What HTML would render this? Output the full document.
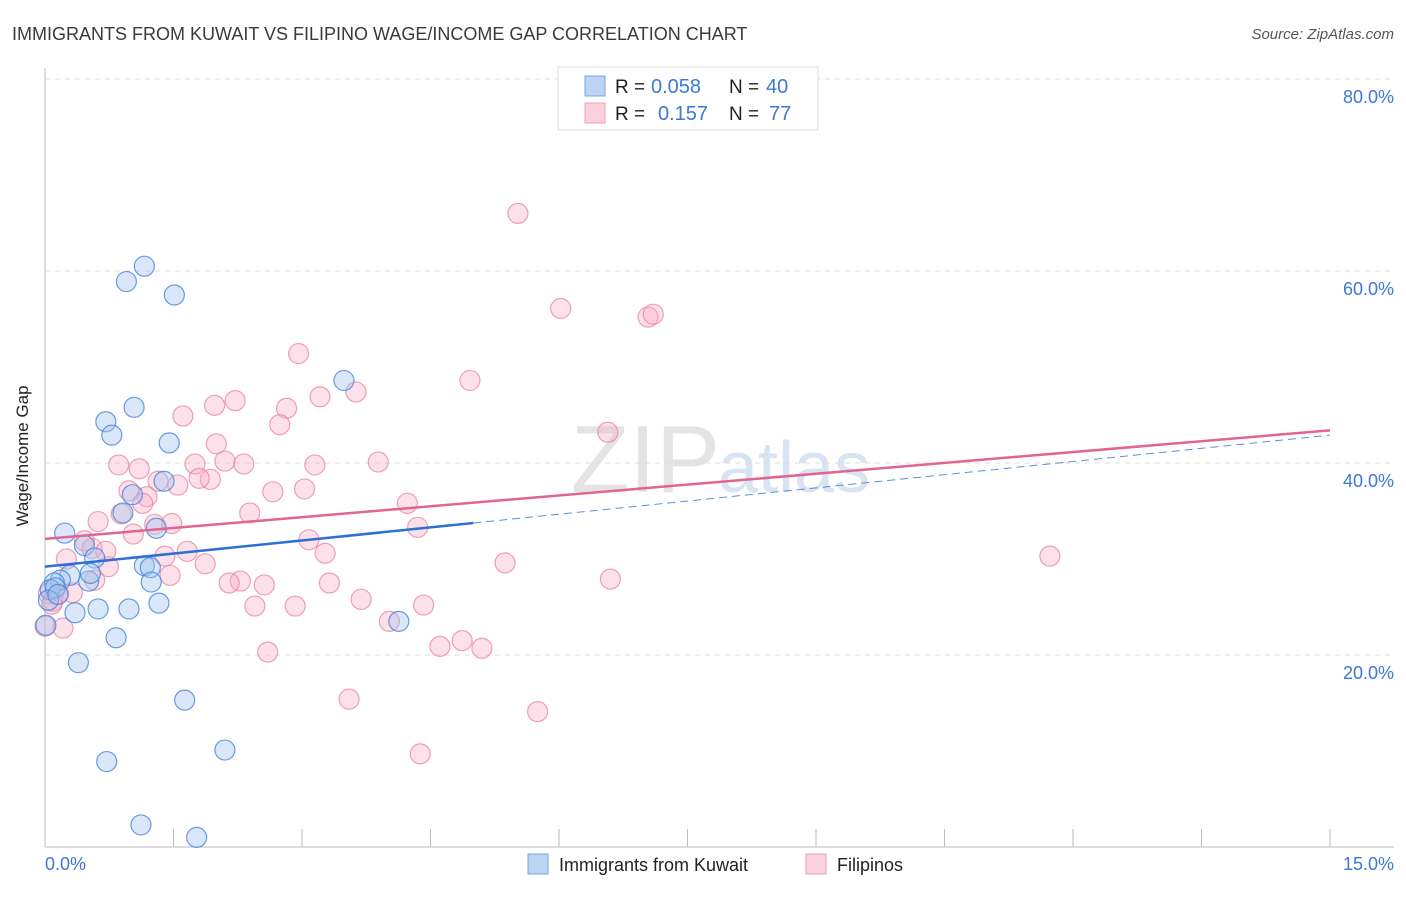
<!DOCTYPE html>
<html><head><meta charset="utf-8"><style>
body{margin:0;background:#fff;font-family:"Liberation Sans",sans-serif;}
svg text{font-family:"Liberation Sans",sans-serif;}
</style></head><body>
<svg id="chart" width="1406" height="892" xmlns="http://www.w3.org/2000/svg">
<text x="12" y="40" font-size="18" fill="#3a3a3a">IMMIGRANTS FROM KUWAIT VS FILIPINO WAGE/INCOME GAP CORRELATION CHART</text>
<text x="1394" y="39" font-size="15" fill="#555" font-style="italic" text-anchor="end">Source: ZipAtlas.com</text>
<text x="720" y="492" font-size="96" fill="#e4e4e4" text-anchor="end" font-family="Liberation Serif">ZIP</text>
<text x="718" y="492" font-size="72" fill="#d8e4f2">atlas</text>
<g id="grid"></g><g id="axes"></g><g id="pts"></g><g id="lines"></g>
<text x="28" y="456" font-size="17" fill="#222" text-anchor="middle" transform="rotate(-90 28 456)">Wage/Income Gap</text>
<text x="45" y="870" font-size="18" fill="#3b78d8">0.0%</text>
<text x="1394" y="870" font-size="18" fill="#3b78d8" text-anchor="end">15.0%</text>
<g>
<rect x="558" y="67" width="260" height="63" fill="#fff" stroke="#ddd"/>
<rect x="585" y="76" width="20" height="20" fill="#bcd4f4" stroke="#7aa6e6"/>
<rect x="585" y="103" width="20" height="20" fill="#fbd0dc" stroke="#f0a0b8"/>
<text x="615" y="93" font-size="19" fill="#222">R =</text>
<text x="651" y="93" font-size="20" fill="#3b78d8">0.058</text>
<text x="729" y="93" font-size="19" fill="#222">N =</text>
<text x="766" y="93" font-size="20" fill="#3b78d8">40</text>
<text x="615" y="120" font-size="19" fill="#222">R =</text>
<text x="658" y="120" font-size="20" fill="#3b78d8">0.157</text>
<text x="729" y="120" font-size="19" fill="#222">N =</text>
<text x="769" y="120" font-size="20" fill="#3b78d8">77</text>
</g>
<g>
<rect x="528" y="854" width="20" height="20" fill="#bcd4f4" stroke="#7aa6e6"/>
<text x="559" y="871" font-size="18" fill="#222">Immigrants from Kuwait</text>
<rect x="806" y="854" width="20" height="20" fill="#fbd0dc" stroke="#f0a0b8"/>
<text x="837" y="871" font-size="18" fill="#222">Filipinos</text>
</g>
</svg>
<script>
const yTicks=[20,40,60,80];
const xTicks=[0,1.5,3,4.5,6,7.5,9,10.5,12,13.5,15];
const kuwaitX=[0.95,1.16,1.51,3.49,0.71,1.04,0.78,1.45,1.39,1.02,0.91,1.30,0.23,0.46,0.58,1.16,1.23,0.29,0.18,0.11,0.51,1.24,0.06,0.12,0.04,0.35,0.62,0.98,1.33,0.83,4.13,0.39,1.63,0.72,2.10,1.12,1.77,0.01,0.15,0.53];
const kuwaitY=[58.9,60.5,57.5,48.6,44.3,45.8,42.9,42.1,38.1,36.7,34.8,33.2,32.7,31.4,30.1,29.3,29.1,28.3,27.8,27.5,27.7,27.6,26.8,27.0,25.7,24.4,24.8,24.8,25.4,21.8,23.5,19.2,15.3,8.9,10.1,2.3,1.0,23.1,26.3,28.5];
const filX=[5.52,6.02,7.04,7.10,2.96,4.96,3.63,3.21,2.22,1.98,2.82,1.61,2.74,6.57,2.00,0.86,1.75,2.10,2.32,3.89,3.15,1.10,1.32,1.55,1.93,1.80,0.98,2.66,3.03,1.19,1.14,4.23,2.39,0.89,0.62,1.28,1.48,4.35,3.08,1.03,0.46,0.55,0.71,1.66,3.27,0.25,1.40,1.87,0.74,1.46,5.37,0.58,2.28,2.56,3.32,6.60,2.15,11.73,0.32,0.16,0.04,0.09,0.08,2.45,2.92,3.69,4.42,4.02,0.21,4.87,4.61,5.10,2.60,3.55,5.75,4.38,0.0];
const filY=[66.0,56.1,55.2,55.5,51.4,48.6,47.4,46.9,46.5,46.0,45.7,44.9,44.0,43.2,42.0,39.8,39.9,40.2,39.9,40.1,39.8,39.4,38.1,37.7,38.3,38.4,37.1,37.0,37.3,36.5,35.8,35.8,34.8,34.7,33.9,33.6,33.7,33.3,32.0,32.6,31.9,31.1,30.8,30.8,30.6,30.0,30.3,29.5,29.2,28.3,29.6,27.8,27.7,27.3,27.5,27.9,27.5,30.3,26.5,26.4,26.4,25.6,25.3,25.1,25.1,25.8,25.2,23.5,22.8,21.5,20.9,20.7,20.3,15.4,14.1,9.7,23.0];
const kuwaitTrend=[29.2,33.75,42.9];
const filTrend=[32.1,43.4];
const X=v=>45+v/15*1285, Y=v=>847-v*9.6;
const NS='http://www.w3.org/2000/svg';
function mk(t,a,p){const e=document.createElementNS(NS,t);for(const k in a)e.setAttribute(k,a[k]);p.appendChild(e);return e;}
const grid=document.getElementById('grid'),axes=document.getElementById('axes'),pts=document.getElementById('pts'),lines=document.getElementById('lines');
yTicks.forEach(t=>{const l=mk('line',{x1:45,x2:1394,y1:Y(t),y2:Y(t),stroke:'#ddd','stroke-dasharray':'5,5'},grid);


const tx=mk('text',{x:1394,y:Y(t)+24,'font-size':18,fill:'#3b78d8','text-anchor':'end'},grid);tx.textContent=t.toFixed(1)+'%';

});
const ax=mk('line',{x1:45,x2:45,y1:68,y2:847,stroke:'#bbb'},axes);


const bx=mk('line',{x1:45,x2:1394,y1:847,y2:847,stroke:'#bbb'},axes);


xTicks.forEach(t=>{const l=mk('line',{x1:X(t),x2:X(t),y1:829,y2:847,stroke:'#bbb'},axes);

});
filX.forEach((v,i)=>{const c=mk('circle',{cx:X(v),cy:Y(filY[i]),r:10,fill:'rgba(248,170,195,0.35)',stroke:'rgba(232,130,160,0.75)','stroke-width':1.2},pts);

});
kuwaitX.forEach((v,i)=>{const c=mk('circle',{cx:X(v),cy:Y(kuwaitY[i]),r:10,fill:'rgba(160,195,240,0.4)',stroke:'rgba(70,130,220,0.8)','stroke-width':1.2},pts);

});
const l1=mk('line',{x1:X(0),y1:Y(kuwaitTrend[0]),x2:X(5),y2:Y(kuwaitTrend[1]),stroke:'#2d6fd6','stroke-width':2.5},lines);


const l2=mk('line',{x1:X(5),y1:Y(kuwaitTrend[1]),x2:X(15),y2:Y(kuwaitTrend[2]),stroke:'#5b8fdc','stroke-width':1,'stroke-dasharray':'8,5'},lines);


const l3=mk('line',{x1:X(0),y1:Y(filTrend[0]),x2:X(15),y2:Y(filTrend[1]),stroke:'#e2658f','stroke-width':2.5},lines);


</script>
</body></html>
